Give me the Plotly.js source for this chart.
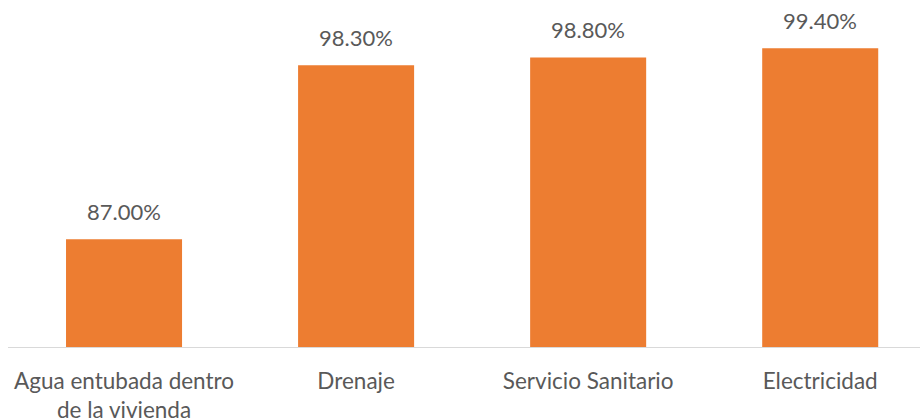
<!DOCTYPE html>
<html>
<head>
<meta charset="utf-8">
<script src="https://cdn.plot.ly/plotly-3.0.1.min.js"></script>
<style>
  html, body { margin: 0; padding: 0; background: #fff; }
  #chart { width: 920px; height: 418px; }
</style>
</head>
<body>
<div id="chart"></div>
<script>
const categories = ['Agua entubada dentro<br>de la vivienda', 'Drenaje', 'Servicio Sanitario', 'Electricidad'];
const values = [87.0, 98.3, 98.8, 99.4];
const valueLabels = ['87.00%', '98.30%', '98.80%', '99.40%'];

const barColor = '#ED7D31';
const textColor = '#595959';
const fontFamily = 'Lato, "Open Sans", sans-serif';

const plotData = [
  {
    type: 'bar',
    x: [0, 1, 2, 3],
    y: values,
    marker: { color: barColor },
    width: 0.5,
    hoverinfo: 'skip',
  },
];

// value labels above each bar
const annotations = values.map((v, i) => ({
  x: i,
  y: v,
  text: valueLabels[i],
  showarrow: false,
  yanchor: 'bottom',
  yshift: 12,
  font: { family: fontFamily, size: 22, color: textColor },
}));

const layout = {
  width: 920,
  height: 418,
  margin: { l: 8, r: 0, t: 39, b: 71 },
  paper_bgcolor: '#fff',
  plot_bgcolor: '#fff',
  showlegend: false,
  bargap: 0.5,
  xaxis: {
    range: [-0.5, 3.43],
    tickmode: 'array',
    tickvals: [0, 1, 2, 3],
    ticktext: categories,
    showline: true,
    linecolor: '#d9d9d9',
    linewidth: 1,
    showgrid: false,
    zeroline: false,
    ticks: '',
    ticklabelstandoff: 14,
    tickfont: { family: fontFamily, size: 22.5, color: textColor },
  },
  yaxis: {
    range: [80, 100],
    visible: false,
    showgrid: false,
    zeroline: false,
  },
  annotations: annotations,
};

Plotly.newPlot('chart', plotData, layout, { displayModeBar: false, staticPlot: true });
</script>
</body>
</html>
